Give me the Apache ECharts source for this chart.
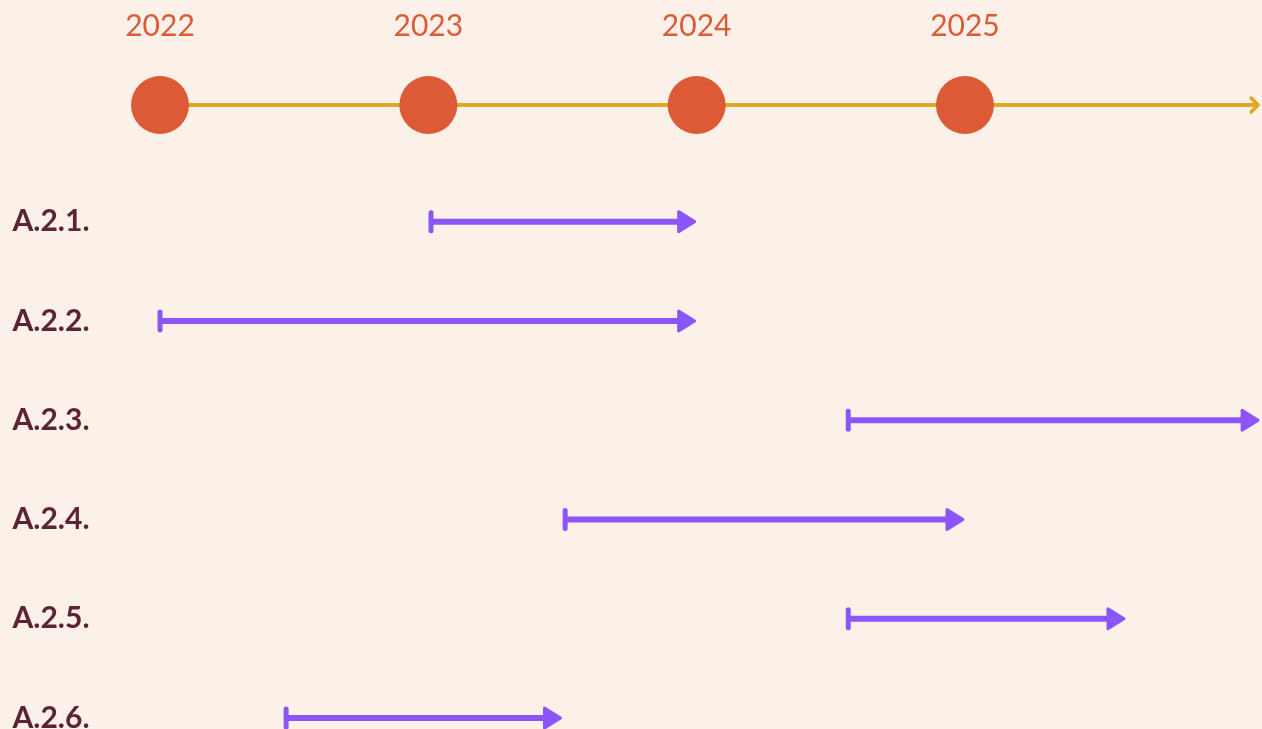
<!DOCTYPE html>
<html><head><meta charset="utf-8">
<script src="https://cdn.jsdelivr.net/npm/echarts@6/dist/echarts.min.js"></script>
<style>html,body{margin:0;padding:0;background:#FCF1E9}#c{width:1262px;height:729px}</style>
</head><body><div id="c"></div>
<script>
const years = ['2022','2023','2024','2025'];
const yearValues = [2022, 2023, 2024, 2025];
const timelineStart = 2022;
const timelineEnd = 2026.1;
const tasks = ['A.2.1.','A.2.2.','A.2.3.','A.2.4.','A.2.5.','A.2.6.'];
const taskStart = [2023.01, 2022, 2024.565, 2023.51, 2024.565, 2022.47];
const taskEnd = [2024, 2024, 2026.1, 2025, 2025.6, 2023.5];

const PURPLE = '#8B55F8', ORANGE = '#DC5A35', GOLD = '#E0A822', MAROON = '#5C2434';
const XMIN = 2021.4037, XMAX = 2026.107;

function renderTimeline(params, api) {
  const s = api.coord([api.value(0), 0]);
  const e = api.coord([api.value(1), 0]);
  const y = s[1];
  return {type: 'group', children: [
    {type: 'line', shape: {x1: s[0], y1: y, x2: e[0] - 2, y2: y}, style: {stroke: GOLD, lineWidth: 4}},
    {type: 'polyline', shape: {points: [[e[0] - 9, y - 7], [e[0] - 2, y], [e[0] - 9, y + 7]]},
      style: {stroke: GOLD, lineWidth: 3.5, fill: null, lineCap: 'round', lineJoin: 'round'}}
  ]};
}

function renderTask(params, api) {
  const s = api.coord([api.value(0), api.value(2)]);
  const e = api.coord([api.value(1), api.value(2)]);
  const y = s[1];
  const tip = e[0] - 2, headLen = 16, headH = 10;
  return {type: 'group', children: [
    {type: 'line', shape: {x1: s[0], y1: y, x2: tip - headLen + 2, y2: y}, style: {stroke: PURPLE, lineWidth: 6}},
    {type: 'line', shape: {x1: s[0], y1: y - 9, x2: s[0], y2: y + 9}, style: {stroke: PURPLE, lineWidth: 5, lineCap: 'round'}},
    {type: 'polygon', shape: {points: [[tip - headLen, y - headH], [tip, y], [tip - headLen, y + headH]]},
      style: {fill: PURPLE, stroke: PURPLE, lineWidth: 3, lineJoin: 'round'}},
    {type: 'text', x: 51, y: y, style: {text: tasks[api.value(2)], align: 'center', verticalAlign: 'middle',
      fill: MAROON, fontSize: 30, fontWeight: 'bold', fontFamily: 'Lato'}}
  ]};
}

const chart = echarts.init(document.getElementById('c'));
chart.setOption({
  backgroundColor: '#FCF1E9',
  animation: false,
  grid: [
    {left: 0, right: 0, top: 55, height: 100},
    {left: 0, right: 0, top: 172, height: 557}
  ],
  xAxis: [
    {gridIndex: 0, type: 'value', min: XMIN, max: XMAX, show: false},
    {gridIndex: 1, type: 'value', min: XMIN, max: XMAX, show: false}
  ],
  yAxis: [
    {gridIndex: 0, type: 'value', min: -1, max: 1, show: false},
    {gridIndex: 1, type: 'value', inverse: true, min: -0.5, max: 5.11, show: false}
  ],
  series: [
    {type: 'custom', xAxisIndex: 0, yAxisIndex: 0, renderItem: renderTimeline, clip: false, z: 1,
      data: [[timelineStart, timelineEnd]]},
    {type: 'scatter', xAxisIndex: 0, yAxisIndex: 0, z: 3, symbol: 'circle', symbolSize: 58,
      itemStyle: {color: ORANGE, opacity: 1},
      label: {show: true, position: 'inside', offset: [0, -79], color: ORANGE, fontSize: 30,
        fontWeight: 'normal', fontFamily: 'Lato', formatter: p => years[p.dataIndex]},
      data: yearValues.map(v => [v, 0])},
    {type: 'custom', xAxisIndex: 1, yAxisIndex: 1, renderItem: renderTask, clip: false,
      data: tasks.map((t, i) => [taskStart[i], taskEnd[i], i])}
  ]
});
</script></body></html>
